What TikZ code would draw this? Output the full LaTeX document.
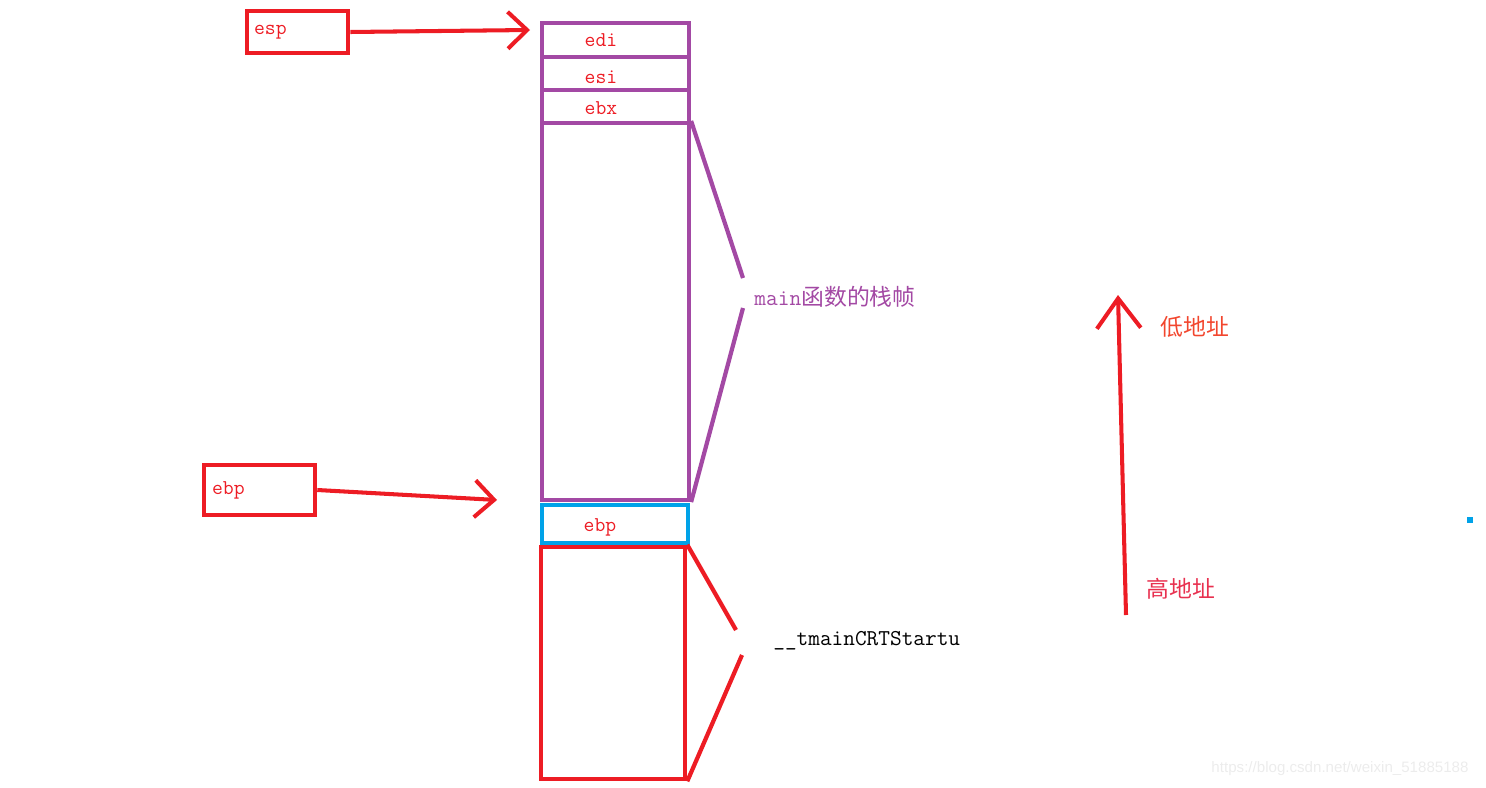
\documentclass[tikz,border=0pt]{standalone}
\usepackage{fontspec}
\setsansfont{Liberation Sans}
\newfontfamily\cjk{Noto Sans CJK SC}
\usetikzlibrary{arrows.meta,positioning}
\definecolor{rouge}{HTML}{ED1C24}
\definecolor{pourpre}{HTML}{A349A4}
\definecolor{bleu}{HTML}{00A2E8}
\definecolor{orangerouge}{HTML}{F2462E}
\definecolor{rose}{HTML}{E8304F}
\definecolor{filigrane}{HTML}{ECECEC}

\begin{document}
\begin{tikzpicture}[x=0.02cm,y=-0.02cm,
  regbox/.style={draw=rouge,line width=2.6pt,inner sep=0pt},
  slot/.style={draw=pourpre,line width=2.4pt,inner sep=0pt,minimum width=2.94cm},
  txt/.style={font=\ttfamily\fontsize{12}{14}\selectfont,text=rouge,inner sep=0pt},
  lbl/.style={font=\fontsize{13}{15}\selectfont,inner sep=0pt,anchor=west},
  fl/.style={-{Straight Barb[length=11pt,width=21pt]},line width=2.3pt,rouge},
  br/.style={line width=2.4pt}]
  \useasboundingbox (0,0) rectangle (1486,787);
  % ---- registres
  \node[regbox,minimum width=2.02cm,minimum height=0.84cm] (esp) at (297.5,32) {};
  \node[txt,anchor=west] at ([xshift=0.18cm]esp.west) {esp};
  \node[regbox,minimum width=2.22cm,minimum height=1.0cm] (ebp) at (259.5,490) {};
  \node[txt,anchor=west] at ([xshift=0.2cm]ebp.west) {ebp};
  % ---- pile
  \node[slot,minimum height=0.68cm] (edi) at (615.5,40) {};
  \node[slot,minimum height=0.66cm] (esi) at (615.5,73.5) {};
  \node[slot,minimum height=0.66cm] (ebx) at (615.5,106.5) {};
  \node[slot,minimum height=7.54cm] (body) at (615.5,311.5) {};
  \node[txt] at (601,40) {edi};
  \node[txt] at (601,77) {esi};
  \node[txt] at (601,108) {ebx};
  \node[draw=bleu,line width=2.6pt,inner sep=0pt,minimum width=2.92cm,minimum height=0.76cm] (oldebp) at (615,524) {};
  \node[txt] at (600,527) {ebp};
  \node[regbox,minimum width=2.88cm,minimum height=4.64cm] (crt) at (613,663) {};
  % ---- accolades
  \coordinate (m1) at (743,278);
  \coordinate (m2) at (743,308);
  \draw[br,pourpre] (body.north east) -- (m1);
  \draw[br,pourpre] (m2) -- (body.south east);
  \node[lbl,text=pourpre] (mainlbl) at (754,297) {\ttfamily main\cjk 函数的栈帧};
  \coordinate (c1) at (736,630);
  \coordinate (c2) at (742,655);
  \draw[br,rouge] (crt.north east) -- (c1);
  \draw[br,rouge] (c2) -- (crt.south east);
  \node[lbl,font=\ttfamily\fontsize{12.9}{15}\selectfont] (crtlbl) at (773,641) {\_\_tmainCRTStartu};
  % ---- fleches
  \coordinate (esptip) at (530,30);
  \coordinate (ebptip) at (497,500);
  \draw[fl] (esp.east) -- (esptip);
  \draw[fl] (ebp.east) -- (ebptip);
  \coordinate (high) at (1126,615);
  \coordinate (low) at (1118,295);
  \draw[fl,-{Straight Barb[length=17pt,width=25pt]}] (high) -- (low);
  \node[lbl,anchor=center,text=orangerouge] (lowlbl) at (1195,327) {\cjk 低地址};
  \node[lbl,anchor=center,text=rose] (highlbl) at (1181,589) {\cjk 高地址};
  % ---- divers
  \fill[bleu] (1467,517) rectangle (1473,523);
  \node[font=\sffamily\fontsize{8.6}{10}\selectfont,text=filigrane,inner sep=0pt] (wm) at (1340,769) {https://blog.csdn.net/weixin\_51885188};
\end{tikzpicture}
\end{document}
